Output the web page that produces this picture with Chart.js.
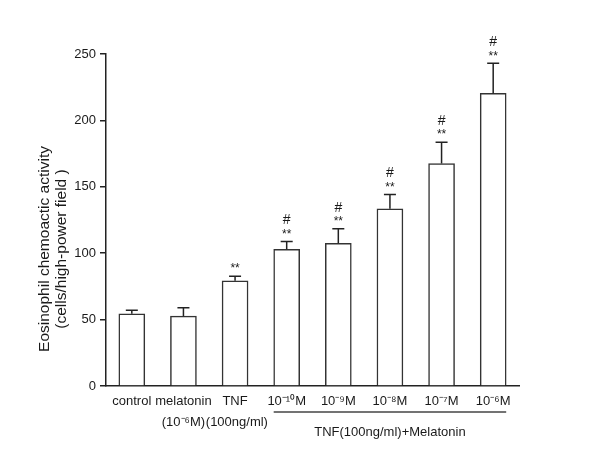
<!DOCTYPE html>
<html>
<head>
<meta charset="utf-8">
<script src="https://cdn.jsdelivr.net/npm/chart.js@4"></script>
<style>
  html, body { margin: 0; padding: 0; background: #fff; }
  #wrap { width: 600px; height: 464px; }
</style>
</head>
<body>
<div id="wrap"><canvas id="eosChart" width="600" height="464"></canvas></div>
<script>
// values
const categories = ['control', ['melatonin', '(10⁻⁶M)'], ['TNF', ' (100ng/ml)'], '10⁻¹⁰M', '10⁻⁹M', '10⁻⁸M', '10⁻⁷M', '10⁻⁶M'];
const means = [54.4, 52.6, 79.2, 103, 107.5, 133.4, 167.5, 220.3];
const errors = [2.6, 6.3, 3.5, 5.8, 10.9, 10.8, 16.1, 22.7];
const starMarks = ['', '', '**', '**', '**', '**', '**', '**'];
const hashMarks = ['', '', '', '#', '#', '#', '#', '#'];
const yTicks = [0, 50, 100, 150, 200, 250];
const yTitle = ['Eosinophil chemoactic activity', '(cells/high-power field )'];
const groupLabel = 'TNF(100ng/ml)+Melatonin';
const groupFrom = 3, groupTo = 7;

const FONT = 'Liberation Sans, Arial, sans-serif';
const INK = '#1a1a1a';

// error bars, significance marks, group bracket and y title
const extras = {
    id: 'extras',
    afterDatasetsDraw(chart) {
        const ctx = chart.ctx;
        const x = chart.scales.x, y = chart.scales.y;
        const area = chart.chartArea;
        const meta = chart.getDatasetMeta(0);
        ctx.save();
        ctx.strokeStyle = '#222';
        ctx.lineWidth = 1.5;
        meta.data.forEach((bar, i) => {
            const cx = bar.x;
            const top = y.getPixelForValue(means[i]);
            const errTop = y.getPixelForValue(means[i] + errors[i]);
            ctx.beginPath();
            ctx.moveTo(cx, top);
            ctx.lineTo(cx, errTop);
            ctx.moveTo(cx - 6, errTop);
            ctx.lineTo(cx + 6, errTop);
            ctx.stroke();

            ctx.fillStyle = INK;
            ctx.textAlign = 'center';
            ctx.textBaseline = 'middle';
            if (starMarks[i]) {
                ctx.font = '12px ' + FONT;
                ctx.fillText(starMarks[i], cx, errTop - 7);
            }
            if (hashMarks[i]) {
                ctx.font = '14px ' + FONT;
                ctx.fillText(hashMarks[i], cx, errTop - 21);
            }
        });

        // bracket under the melatonin doses
        const half = meta.data[0].width / 2;
        const x0 = x.getPixelForValue(groupFrom) - half;
        const x1 = x.getPixelForValue(groupTo) + half;
        const by = area.bottom + 26;
        ctx.strokeStyle = '#444';
        ctx.lineWidth = 1.5;
        ctx.beginPath();
        ctx.moveTo(x0, by);
        ctx.lineTo(x1, by);
        ctx.stroke();
        ctx.fillStyle = INK;
        ctx.font = '13px ' + FONT;
        ctx.textAlign = 'center';
        ctx.textBaseline = 'middle';
        ctx.fillText(groupLabel, (x0 + x1) / 2, by + 20);

        // y axis title, sits a bit below the axis middle in the original
        ctx.translate(area.left - 53, (area.top + area.bottom) / 2 + 29);
        ctx.rotate(-Math.PI / 2);
        ctx.font = '15.5px ' + FONT;
        ctx.fillText(yTitle[0], 0, -8);
        ctx.fillText(yTitle[1], 0, 9);
        ctx.restore();
    }
};

new Chart(document.getElementById('eosChart'), {
    type: 'bar',
    data: {
        labels: categories,
        datasets: [{
            data: means,
            backgroundColor: '#ffffff',
            borderColor: '#333',
            borderWidth: 1.5,
            barThickness: 26
        }]
    },
    options: {
        responsive: false,
        animation: false,
        events: [],
        layout: { padding: { left: 0, right: 81, top: 54, bottom: 0 } },
        plugins: { legend: { display: false }, tooltip: { enabled: false } },
        scales: {
            x: {
                grid: { display: false, drawTicks: false },
                border: { display: true, color: '#222', width: 1.5 },
                ticks: {
                    color: INK,
                    font: { family: FONT, size: 13, lineHeight: 1.6 },
                    padding: 5,
                    maxRotation: 0,
                    autoSkip: false
                },
                afterFit(scale) { scale.height = 78; }
            },
            y: {
                min: 0,
                max: 250,
                afterBuildTicks(scale) { scale.ticks = yTicks.map(v => ({ value: v })); },
                grid: { display: true, drawOnChartArea: false, tickLength: 6, color: '#222', lineWidth: 1.5 },
                border: { display: true, color: '#222', width: 1.5 },
                ticks: {
                    color: INK,
                    font: { family: FONT, size: 13 },
                    padding: 4
                },
                afterFit(scale) { scale.width = 106; }
            }
        }
    },
    plugins: [extras]
});
</script>
</body>
</html>
